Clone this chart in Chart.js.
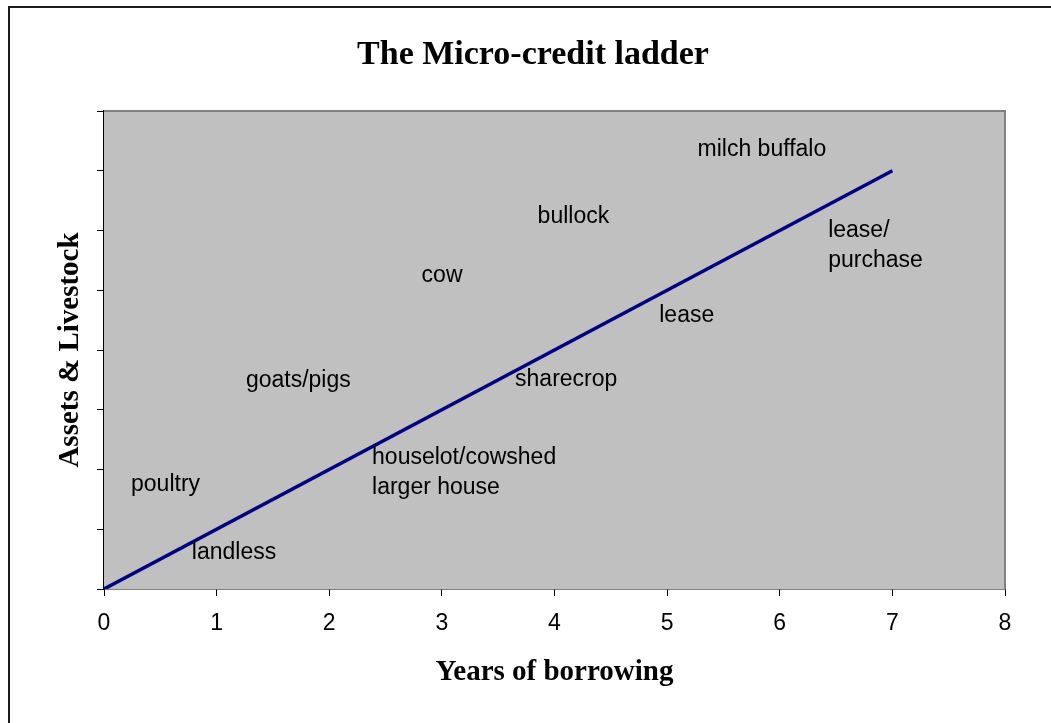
<!DOCTYPE html>
<html>
<head>
<meta charset="utf-8">
<title>The Micro-credit ladder</title>
<script src="https://cdn.jsdelivr.net/npm/chart.js@4.4.1/dist/chart.umd.min.js"></script>
<style>
  html, body { margin: 0; padding: 0; background: #fff; }
  #wrap { width: 1051px; height: 723px; }
</style>
</head>
<body>
<div id="wrap"><canvas id="chart" width="1051" height="723"></canvas></div>
<script>
  // the ladder line: years of borrowing vs assets (no y tick labels in source)
  var lineYears  = [0, 7];
  var lineAssets = [0, 7];

  // step labels placed in data units (left edge, vertical middle)
  var stepText = ["milch buffalo", "bullock", "lease/\npurchase", "cow", "lease",
                  "goats/pigs", "sharecrop", "houselot/cowshed\nlarger house",
                  "poultry", "landless"];
  var stepX = [5.27, 3.85, 6.43, 2.82, 4.93, 1.26, 3.65, 2.38, 0.24, 0.78];
  var stepY = [7.35, 6.24, 5.74, 5.24, 4.57, 3.48, 3.50, 1.94, 1.74, 0.60];

  var xTicks = [0, 1, 2, 3, 4, 5, 6, 7, 8];

  var serif = "'Liberation Serif', 'Times New Roman', serif";
  var sans = "'Liberation Sans', Arial, sans-serif";

  // grey plot, frame, titles and the step labels
  var decor = {
    id: "decor",
    beforeDatasetsDraw: function (chart) {
      var ctx = chart.ctx, a = chart.chartArea;
      ctx.save();
      ctx.fillStyle = "#C0C0C0";
      ctx.fillRect(a.left, a.top, a.right - a.left, a.bottom - a.top);
      ctx.strokeStyle = "#808080";
      ctx.lineWidth = 2;
      ctx.beginPath();
      ctx.moveTo(a.left, a.top); ctx.lineTo(a.right, a.top); ctx.lineTo(a.right, a.bottom);
      ctx.stroke();
      ctx.restore();
    },
    afterDraw: function (chart) {
      var ctx = chart.ctx, a = chart.chartArea;
      var xs = chart.scales.x, ys = chart.scales.y;
      ctx.save();
      // outer frame (only top and left are in the picture)
      ctx.strokeStyle = "#1a1a1a";
      ctx.lineWidth = 2;
      ctx.beginPath();
      ctx.moveTo(9, 723); ctx.lineTo(9, 7); ctx.lineTo(1051, 7);
      ctx.stroke();

      ctx.fillStyle = "#000";
      ctx.textAlign = "center";
      ctx.textBaseline = "alphabetic";
      ctx.font = "bold 34px " + serif;
      ctx.fillText("The Micro-credit ladder", 533, 64);

      ctx.font = "bold 29px " + serif;
      ctx.fillText("Years of borrowing", (a.left + a.right) / 2, 680);

      ctx.save();
      ctx.translate(78, (a.top + a.bottom) / 2);
      ctx.rotate(-Math.PI / 2);
      ctx.fillText("Assets & Livestock", 0, 0);
      ctx.restore();

      ctx.font = "23px " + sans;
      ctx.textAlign = "left";
      ctx.textBaseline = "middle";
      var lh = 30;
      stepText.forEach(function (t, i) {
        var lines = t.split("\n");
        var px = xs.getPixelForValue(stepX[i]);
        var py = ys.getPixelForValue(stepY[i]) - (lines.length - 1) * lh / 2;
        lines.forEach(function (ln, k) { ctx.fillText(ln, px, py + k * lh); });
      });
      ctx.restore();
    }
  };

  new Chart(document.getElementById("chart").getContext("2d"), {
    type: "scatter",
    data: {
      datasets: [{
        data: lineYears.map(function (x, i) { return { x: x, y: lineAssets[i] }; }),
        showLine: true,
        borderColor: "#000080",
        backgroundColor: "#000080",
        borderWidth: 3.5,
        pointRadius: 0
      }]
    },
    options: {
      responsive: false,
      animation: false,
      layout: { padding: { top: 111, right: 46, bottom: 0, left: 0 } },
      plugins: { legend: { display: false }, tooltip: { enabled: false } },
      scales: {
        x: {
          type: "linear",
          min: 0, max: 8,
          afterBuildTicks: function (s) { s.ticks = xTicks.map(function (v) { return { value: v }; }); },
          afterFit: function (s) { s.height = 134; },
          grid: { drawOnChartArea: false, drawTicks: true, tickLength: 7, color: "#000", lineWidth: 1 },
          border: { display: true, color: "#000", width: 1.5 },
          ticks: { color: "#000", padding: 14, maxRotation: 0, font: { family: sans, size: 23 } }
        },
        y: {
          type: "linear",
          min: 0, max: 8,
          afterBuildTicks: function (s) { s.ticks = xTicks.map(function (v) { return { value: v }; }); },
          afterFit: function (s) { s.width = 104; },
          grid: { drawOnChartArea: false, drawTicks: true, tickLength: 7, color: "#000", lineWidth: 1 },
          border: { display: true, color: "#000", width: 1.5 },
          ticks: { display: true, callback: function () { return ""; } }
        }
      }
    },
    plugins: [decor]
  });
</script>
</body>
</html>
